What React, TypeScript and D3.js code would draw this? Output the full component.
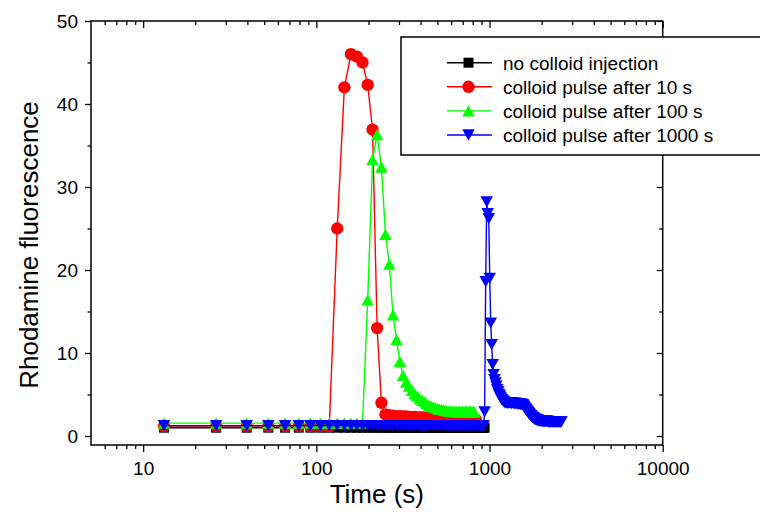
import React, { useEffect, useRef } from 'react';
import * as d3 from 'd3';

// sampling times (s), shared by every series
const TIME = [
  13.2, 26.4, 39.6, 52.8, 66, 79.2, 92.4, 105.6, 118.8, 132, 145.2, 158.4, 171.6, 184.8, 198, 211.2,
  224.4, 237.6, 250.8, 264, 277.2, 290.4, 303.6, 316.8, 330, 343.2, 356.4, 369.6, 382.8, 396, 409.2, 422.4,
  435.6, 448.8, 462, 475.2, 488.4, 501.6, 514.8, 528, 541.2, 554.4, 567.6, 580.8, 594, 607.2, 620.4, 633.6,
  646.8, 660, 673.2, 686.4, 699.6, 712.8, 726, 739.2, 752.4, 765.6, 778.8, 792, 805.2, 818.4, 831.6, 844.8,
  858, 871.2, 884.4, 897.6, 910.8, 924, 937.2, 950.4, 963.6, 976.8, 990, 1003.2, 1016.4, 1029.6, 1042.8, 1056,
  1069.2, 1082.4, 1095.6, 1108.8, 1122, 1135.2, 1148.4, 1161.6, 1174.8, 1188, 1201.2, 1214.4, 1227.6, 1240.8, 1254, 1267.2,
  1280.4, 1293.6, 1306.8, 1320, 1333.2, 1346.4, 1359.6, 1372.8, 1386, 1399.2, 1412.4, 1425.6, 1438.8, 1452, 1465.2, 1478.4,
  1491.6, 1504.8, 1518, 1531.2, 1544.4, 1557.6, 1570.8, 1584, 1597.2, 1610.4, 1623.6, 1636.8, 1650, 1663.2, 1676.4, 1689.6,
  1702.8, 1716, 1729.2, 1742.4, 1755.6, 1768.8, 1782, 1795.2, 1808.4, 1821.6, 1834.8, 1848, 1861.2, 1874.4, 1887.6, 1900.8,
  1914, 1927.2, 1940.4, 1953.6, 1966.8, 1980, 1993.2, 2006.4, 2019.6, 2032.8, 2046, 2059.2, 2072.4, 2085.6, 2098.8, 2112,
  2125.2, 2138.4, 2151.6, 2164.8, 2178, 2191.2, 2204.4, 2217.6, 2230.8, 2244, 2257.2, 2270.4, 2283.6, 2296.8, 2310, 2323.2,
  2336.4, 2349.6, 2362.8, 2376, 2389.2, 2402.4, 2415.6, 2428.8, 2442, 2455.2, 2468.4, 2481.6, 2494.8, 2508, 2521.2, 2534.4,
  2547.6, 2560.8, 2574, 2587.2, 2600.4,
];

// no colloid injection
const NO_COLLOID = [
  1.0, 1.0, 1.0, 1.0, 1.0, 1.0, 1.0, 1.0, 1.0, 1.0, 1.0, 1.0, 1.0, 1.0, 1.0, 1.0,
  1.0, 1.0, 1.0, 1.0, 1.0, 1.0, 1.0, 1.0, 1.0, 1.0, 1.0, 1.0, 1.0, 1.0, 1.0, 1.0,
  1.0, 1.0, 1.0, 1.0, 1.0, 1.0, 1.0, 1.0, 1.0, 1.0, 1.0, 1.0, 1.0, 1.0, 1.0, 1.0,
  1.0, 1.0, 1.0, 1.0, 1.0, 1.0, 1.0, 1.0, 1.0, 1.0, 1.0, 1.0, 1.0, 1.0, 1.0, 1.0,
  1.0, 1.0, 1.0, 1.0, 1.0, 1.0, 1.0,
];

// colloid pulse after 10 s
const PULSE_10 = [
  1.2, 1.2, 1.2, 1.2, 1.2, 1.2, 1.2, 1.2, 1.2,
  25.0, 42.0, 46.0, 45.7, 45.0, 42.3, 36.9, 13.0, 4.0,
  2.6, 2.5, 2.45, 2.4, 2.4, 2.35, 2.35, 2.3, 2.3, 2.3, 2.25, 2.25, 2.25, 2.2, 2.2,
  2.2, 2.2, 2.2, 2.2, 2.2, 2.15, 2.15, 2.15, 2.15, 2.15, 2.1, 2.1, 2.1, 2.1, 2.1,
  2.1, 2.1, 2.05, 2.05, 2.05, 2.05, 2.05, 2.05, 2.0, 2.0, 2.0, 2.0, 2.0, 2.0, 2.0,
];

// colloid pulse after 100 s
const PULSE_100 = [
  1.55, 1.55, 1.55, 1.55, 1.55, 1.55, 1.55, 1.55, 1.55, 1.55, 1.55, 1.55, 1.55, 1.55,
  16.4, 33.3, 36.3, 32.4, 24.3, 20.7, 14.6, 11.6, 9.0, 7.3, 6.5, 6.0, 5.5, 5.1, 4.8, 4.5,
  4.3, 4.1, 3.9, 3.7, 3.6, 3.5, 3.4, 3.3, 3.25, 3.2, 3.15, 3.1, 3.05, 3.0, 3.0, 3.0,
  2.95, 2.95, 2.95, 2.95, 2.95, 2.95, 2.95, 2.95, 2.95, 2.95, 2.95, 2.95, 2.95, 2.95, 2.95, 2.9,
];

// colloid pulse after 1000 s
const PULSE_1000 = [
  1.25, 1.25, 1.25, 1.25, 1.25, 1.25, 1.25, 1.25, 1.25, 1.25, 1.25, 1.25, 1.25, 1.25, 1.25, 1.25,
  1.25, 1.25, 1.25, 1.25, 1.25, 1.25, 1.25, 1.25, 1.25, 1.25, 1.25, 1.25, 1.25, 1.25, 1.25, 1.25,
  1.25, 1.25, 1.25, 1.25, 1.25, 1.25, 1.25, 1.25, 1.25, 1.25, 1.25, 1.25, 1.25, 1.25, 1.25, 1.25,
  1.25, 1.25, 1.25, 1.25, 1.25, 1.25, 1.25, 1.25, 1.25, 1.25, 1.25, 1.25, 1.25, 1.25, 1.25, 1.25,
  1.25, 1.25, 1.25, 1.25, 1.25, 1.25,
  2.9, 18.6, 28.2, 26.8, 26.2, 19.0, 13.6, 11.0, 8.6, 7.4, 6.8, 6.4, 6.0, 5.6, 5.3, 5.0,
  4.8, 4.6, 4.4, 4.3, 4.2, 4.1, 4.0,
  4.0, 4.0, 3.95, 3.95, 4.0, 4.0, 3.95, 3.9, 3.95, 4.0, 3.95, 3.9, 3.9, 3.95, 3.9, 3.9,
  3.85, 3.85, 3.9, 3.85, 3.8, 3.8, 3.8, 3.8,
  3.75, 3.7, 3.55, 3.4, 3.3, 3.2, 3.1, 3.0, 2.9, 2.8, 2.7, 2.6, 2.5, 2.45, 2.4, 2.3,
  2.25, 2.2, 2.15, 2.1, 2.05, 2.0, 2.0, 1.95, 1.9,
  1.9, 1.9, 1.85, 1.85, 1.85, 1.8, 1.8, 1.8, 1.8, 1.8, 1.8, 1.75, 1.75, 1.75, 1.75, 1.75,
  1.75, 1.75, 1.75, 1.75, 1.75, 1.75, 1.75, 1.7, 1.7, 1.7, 1.7, 1.7, 1.7, 1.7, 1.7, 1.7,
  1.7, 1.7, 1.7, 1.7, 1.7, 1.7, 1.7, 1.7, 1.7, 1.7, 1.7, 1.7, 1.7, 1.7, 1.7, 1.7,
  1.7, 1.7, 1.7, 1.7, 1.7, 1.7, 1.7,
];

const LEGEND_LABELS = [
  'no colloid injection',
  'colloid pulse after 10 s',
  'colloid pulse after 100 s',
  'colloid pulse after 1000 s',
];
const X_TICKS = [10, 100, 1000, 10000];
const X_MINOR = [6, 7, 8, 9, 20, 30, 40, 50, 60, 70, 80, 90, 200, 300, 400, 500, 600, 700, 800, 900,
  2000, 3000, 4000, 5000, 6000, 7000, 8000, 9000];
const Y_TICKS = [0, 10, 20, 30, 40, 50];
const Y_MINOR = [5, 15, 25, 35, 45];

const FONT = '"Liberation Sans", Arial, Helvetica, sans-serif';

// Origin-like triangles, centred on their bounding box
const triUp = {
  draw(ctx, size) {
    const w = Math.sqrt(size) * 1.1, h = w * 0.9;
    ctx.moveTo(0, -h / 2);
    ctx.lineTo(w / 2, h / 2);
    ctx.lineTo(-w / 2, h / 2);
    ctx.closePath();
  },
};
const triDown = {
  draw(ctx, size) {
    const w = Math.sqrt(size) * 1.1, h = w * 0.9;
    ctx.moveTo(0, h / 2);
    ctx.lineTo(w / 2, -h / 2);
    ctx.lineTo(-w / 2, -h / 2);
    ctx.closePath();
  },
};

const App = () => {
  const svgRef = useRef(null);

  useEffect(() => {
    const svg = d3.select(svgRef.current);
    svg.selectAll('*').remove();

    const left = 91, right = 662.7, top = 21, bottom = 445;

    const x = d3.scaleLog().domain([5, 10000]).range([left, right]);
    const y = d3.scaleLinear().domain([0, 50]).range([436, 21]);

    const series = [
      { values: NO_COLLOID, color: '#000000', symbol: d3.symbolSquare, size: 100 },
      { values: PULSE_10, color: '#ff0000', symbol: d3.symbolCircle, size: 120 },
      { values: PULSE_100, color: '#00ff00', symbol: triUp, size: 130 },
      { values: PULSE_1000, color: '#0000ff', symbol: triDown, size: 130 },
    ];

    const line = d3.line()
      .x((d) => x(d[0]))
      .y((d) => y(d[1]));

    // axes
    const styleAxis = (g) => {
      g.select('.domain').remove();
      g.selectAll('line').attr('stroke', '#000').attr('stroke-width', 1.3);
      g.selectAll('text').attr('font-family', FONT).attr('font-size', 19).attr('fill', '#000');
    };

    svg.append('g')
      .attr('transform', `translate(0,${bottom})`)
      .call(d3.axisBottom(x).tickValues(X_TICKS).tickFormat(d3.format('d')).tickSize(7).tickPadding(9.5))
      .call(styleAxis);
    svg.append('g')
      .attr('transform', `translate(0,${bottom})`)
      .call(d3.axisBottom(x).tickValues(X_MINOR).tickFormat(() => '').tickSize(4))
      .call(styleAxis);
    svg.append('g')
      .attr('transform', `translate(0,${top})`)
      .call(d3.axisTop(x).tickValues(X_TICKS).tickFormat(() => '').tickSize(-7))
      .call(styleAxis);
    svg.append('g')
      .attr('transform', `translate(0,${top})`)
      .call(d3.axisTop(x).tickValues(X_MINOR).tickFormat(() => '').tickSize(-4))
      .call(styleAxis);

    svg.append('g')
      .attr('transform', `translate(${left},0)`)
      .call(d3.axisLeft(y).tickValues(Y_TICKS).tickSize(6).tickPadding(7))
      .call(styleAxis);
    svg.append('g')
      .attr('transform', `translate(${left},0)`)
      .call(d3.axisLeft(y).tickValues(Y_MINOR).tickFormat(() => '').tickSize(3.5))
      .call(styleAxis);
    svg.append('g')
      .attr('transform', `translate(${right},0)`)
      .call(d3.axisRight(y).tickValues(Y_TICKS).tickFormat(() => '').tickSize(-6))
      .call(styleAxis);
    svg.append('g')
      .attr('transform', `translate(${right},0)`)
      .call(d3.axisRight(y).tickValues(Y_MINOR).tickFormat(() => '').tickSize(-3.5))
      .call(styleAxis);

    // frame
    svg.append('rect')
      .attr('x', left)
      .attr('y', top)
      .attr('width', right - left)
      .attr('height', bottom - top)
      .attr('fill', 'none')
      .attr('stroke', '#000')
      .attr('stroke-width', 1.5);

    // data
    series.forEach((s) => {
      const pts = s.values.map((v, i) => [TIME[i], v]);
      const g = svg.append('g');
      g.append('path')
        .attr('d', line(pts))
        .attr('fill', 'none')
        .attr('stroke', s.color)
        .attr('stroke-width', 1.4);
      g.selectAll('path.marker')
        .data(pts)
        .enter()
        .append('path')
        .attr('class', 'marker')
        .attr('d', d3.symbol().type(s.symbol).size(s.size))
        .attr('transform', (d) => `translate(${x(d[0])},${y(d[1])})`)
        .attr('fill', s.color);
    });

    // axis titles
    svg.append('text')
      .attr('x', (left + right) / 2)
      .attr('y', 503)
      .attr('text-anchor', 'middle')
      .attr('font-family', FONT)
      .attr('font-size', 26)
      .text('Time (s)');
    svg.append('text')
      .attr('transform', 'translate(38,245) rotate(-90)')
      .attr('text-anchor', 'middle')
      .attr('font-family', FONT)
      .attr('font-size', 26)
      .text('Rhodamine fluorescence');

    // legend
    const legend = svg.append('g');
    legend.append('rect')
      .attr('x', 401)
      .attr('y', 37)
      .attr('width', 362)
      .attr('height', 118)
      .attr('fill', '#fff')
      .attr('stroke', '#000')
      .attr('stroke-width', 1.5);
    const rows = legend.selectAll('g.row')
      .data(series)
      .enter()
      .append('g')
      .attr('class', 'row')
      .attr('transform', (d, i) => `translate(0,${62.7 + i * 24.1})`);
    rows.append('line')
      .attr('x1', 447)
      .attr('x2', 492)
      .attr('stroke', (d) => d.color)
      .attr('stroke-width', 1.4);
    rows.append('path')
      .attr('d', (d) => d3.symbol().type(d.symbol).size(d.size)())
      .attr('transform', 'translate(468.5,0)')
      .attr('fill', (d) => d.color);
    rows.append('text')
      .attr('x', 503)
      .attr('y', 7)
      .attr('font-family', FONT)
      .attr('font-size', 19)
      .text((d, i) => LEGEND_LABELS[i]);
  }, []);

  return (
    <svg
      ref={svgRef}
      width={760}
      height={516}
      style={{ position: 'absolute', left: 0, top: 0, background: '#fff' }}
    ></svg>
  );
};

export default App;
